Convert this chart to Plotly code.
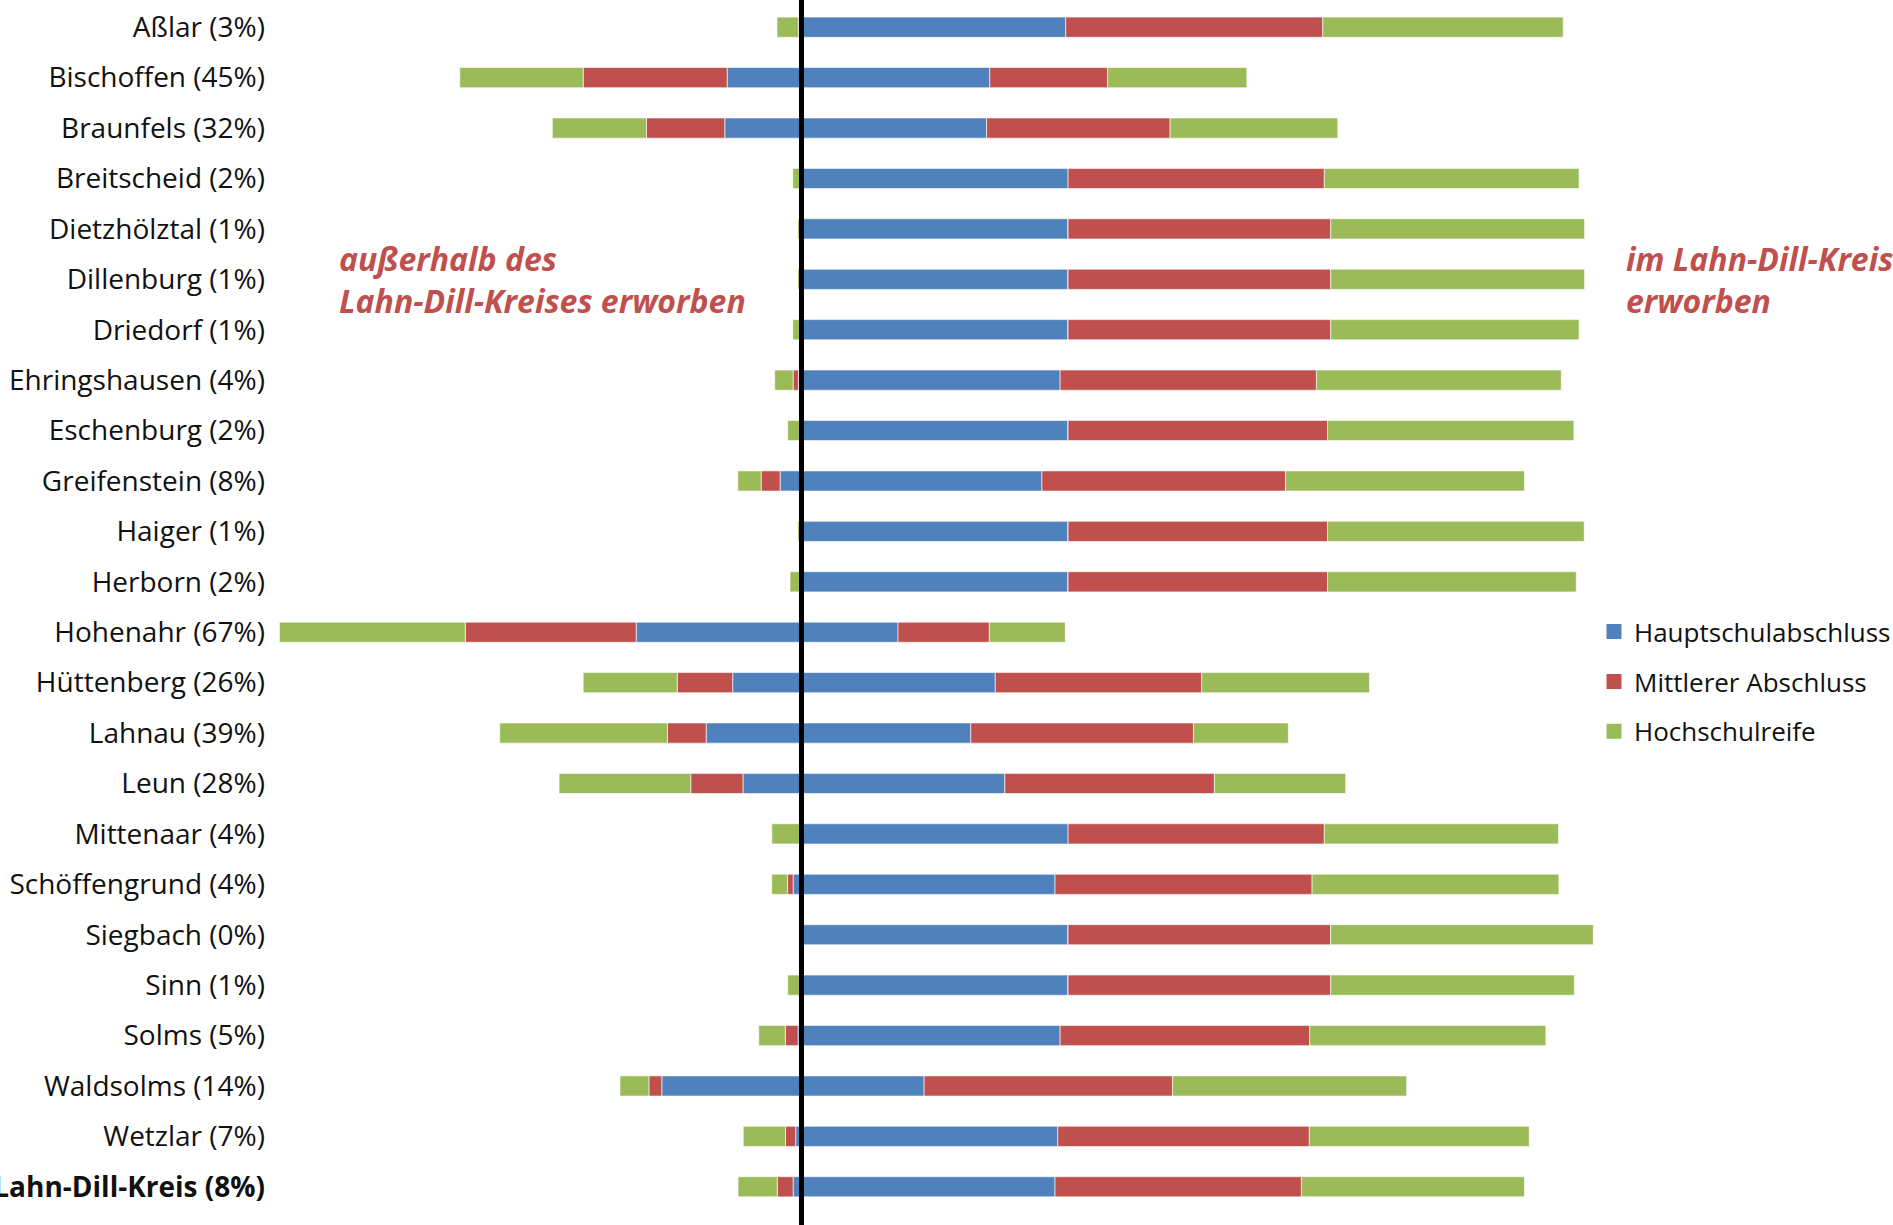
import plotly.graph_objects as go

# Gemeinden (share of graduates who obtained their degree outside the district)
gemeinden = [
    "Aßlar (3%)", "Bischoffen (45%)", "Braunfels (32%)", "Breitscheid (2%)",
    "Dietzhölztal (1%)", "Dillenburg (1%)", "Driedorf (1%)", "Ehringshausen (4%)",
    "Eschenburg (2%)", "Greifenstein (8%)", "Haiger (1%)", "Herborn (2%)",
    "Hohenahr (67%)", "Hüttenberg (26%)", "Lahnau (39%)", "Leun (28%)",
    "Mittenaar (4%)", "Schöffengrund (4%)", "Siegbach (0%)", "Sinn (1%)",
    "Solms (5%)", "Waldsolms (14%)", "Wetzlar (7%)", "<b>Lahn-Dill-Kreis (8%)</b>",
]

# Percent of graduates, degree obtained outside the Lahn-Dill-Kreis
aussen_haupt = [0, 9.4, 9.7, 0, 0, 0, 0, 0.4, 0, 2.7, 0, 0,
                20.9, 8.7, 12.05, 7.4, 0, 1.06, 0, 0, 0.44, 17.66, 0.73, 1.06]
aussen_mittel = [0.4, 18.2, 9.9, 0.1, 0, 0, 0, 0.66, 0, 2.4, 0, 0,
                 21.6, 7.0, 4.9, 6.6, 0.1, 0.7, 0, 0, 1.6, 1.63, 1.3, 2.0]
aussen_hoch = [2.7, 15.6, 11.9, 1.0, 0.45, 0.45, 1.1, 2.33, 1.75, 2.95, 0.45, 1.45,
               23.5, 11.9, 21.2, 16.65, 3.65, 2.0, 0, 1.75, 3.37, 3.66, 5.33, 4.96]

# Percent of graduates, degree obtained inside the Lahn-Dill-Kreis
innen_haupt = [33.4, 23.8, 23.4, 33.7, 33.7, 33.7, 33.7, 32.7, 33.7, 30.4, 33.7, 33.7,
               12.2, 24.5, 21.4, 25.7, 33.7, 32.05, 33.7, 33.7, 32.7, 15.5, 32.4, 32.05]
innen_mittel = [32.5, 14.9, 23.2, 32.4, 33.2, 33.2, 33.2, 32.4, 32.8, 30.8, 32.8, 32.8,
                11.55, 26.1, 28.15, 26.5, 32.4, 32.5, 33.2, 33.2, 31.55, 31.4, 31.8, 31.15]
innen_hoch = [30.4, 17.6, 21.2, 32.2, 32.1, 32.1, 31.4, 30.95, 31.15, 30.2, 32.45, 31.45,
              9.6, 21.2, 12.0, 16.6, 29.6, 31.2, 33.2, 30.8, 29.85, 29.6, 27.8, 28.2]

abschluesse = ["Hauptschulabschluss", "Mittlerer Abschluss", "Hochschulreife"]
farben = ["#4F81BD", "#C0504D", "#9BBB59"]

FONT = "Open Sans"
W, H = 1893, 1225
ML, MR, MT, MB = 272, 0, 2, 13
ZERO_PX, PX_PER_PCT = 801.5, 7.91
PLOT_W = W - ML - MR

fig = go.Figure()
aussen = [aussen_haupt, aussen_mittel, aussen_hoch]
innen = [innen_haupt, innen_mittel, innen_hoch]
for i, name in enumerate(abschluesse):
    bar_style = dict(color=farben[i], line=dict(color="rgba(255,255,255,0.6)", width=1))
    # left side: outside the district (negative direction)
    fig.add_trace(go.Bar(
        y=gemeinden, x=[-v for v in aussen[i]], orientation="h", name=name,
        marker=bar_style, legendgroup=name, showlegend=False,
    ))
    # right side: inside the district
    fig.add_trace(go.Bar(
        y=gemeinden, x=innen[i], orientation="h", name=name,
        marker=bar_style, legendgroup=name, showlegend=False,
    ))
    # legend entry with a larger square swatch
    fig.add_trace(go.Scatter(
        x=[None], y=[None], mode="markers", name=name, legendgroup=name,
        marker=dict(symbol="square", size=15, color=farben[i]),
        showlegend=True, hoverinfo="skip",
    ))

x_min = (ML - ZERO_PX) / PX_PER_PCT
x_max = (W - MR - ZERO_PX) / PX_PER_PCT

fig.update_layout(
    width=W, height=H,
    margin=dict(l=ML, r=MR, t=MT, b=MB, pad=0, autoexpand=False),
    barmode="relative", bargap=0.6,
    plot_bgcolor="white", paper_bgcolor="white",
    font=dict(family=FONT, size=28, color="#111111"),
    xaxis=dict(range=[x_min, x_max], visible=False, showgrid=False, zeroline=False,
               automargin=False),
    yaxis=dict(autorange=False, range=[len(gemeinden) - 0.5, -0.5], showgrid=False,
               zeroline=False, ticks="", showline=False, automargin=False,
               tickfont=dict(family=FONT, size=28, color="#111111"),
               ticklabelstandoff=6),
    legend=dict(x=(1594 - ML) / PLOT_W, xanchor="left",
                y=0.499, yanchor="top", traceorder="grouped", tracegroupgap=13,
                font=dict(family=FONT, size=26, color="#111111"),
                bgcolor="rgba(0,0,0,0)", itemwidth=30),
    showlegend=True,
)

# vertical divider at zero
fig.add_shape(type="line", xref="x", yref="paper", x0=0, x1=0, y0=-0.02, y1=1.01,
              line=dict(color="black", width=5), layer="above")

rot = "#C0504D"
fig.add_annotation(text="<b><i>außerhalb des<br>Lahn-Dill-Kreises erworben</i></b>",
                   xref="paper", yref="y", x=(337 - ML) / PLOT_W, y=5,
                   xanchor="left", yanchor="middle", align="left", showarrow=False,
                   font=dict(family=FONT, size=32, color=rot))
fig.add_annotation(text="<b><i>im Lahn-Dill-Kreis<br>erworben</i></b>",
                   xref="paper", yref="y", x=(1624 - ML) / PLOT_W, y=5,
                   xanchor="left", yanchor="middle", align="left", showarrow=False,
                   font=dict(family=FONT, size=32, color=rot))

fig.write_html("out.html")
